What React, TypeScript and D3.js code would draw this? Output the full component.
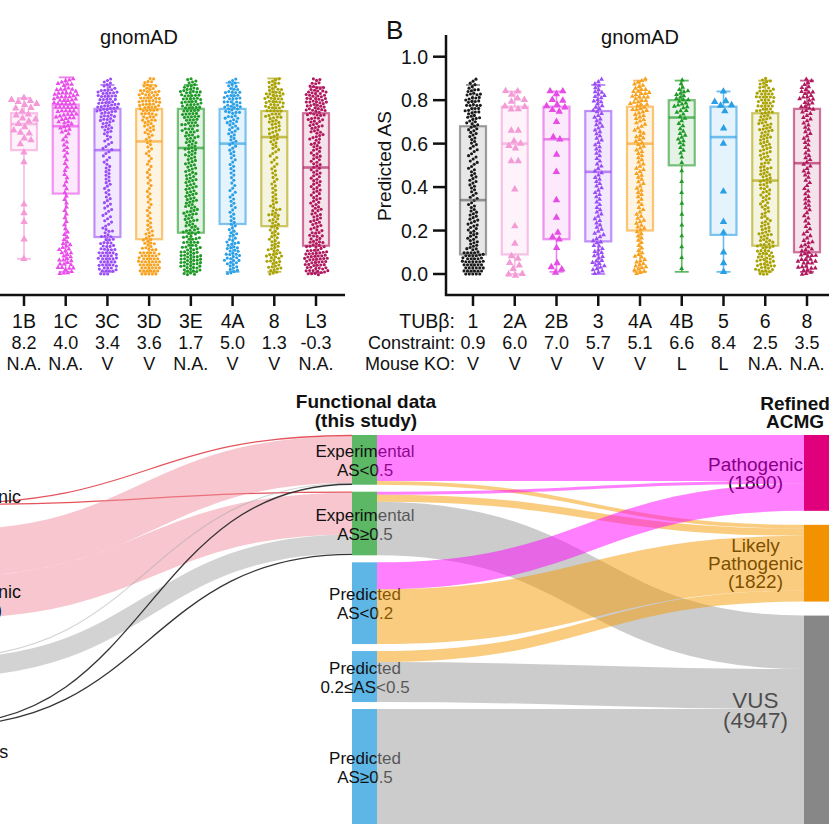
import { useMemo } from "react";
import * as d3 from "d3";

const W = 829;
const H = 828;
const FONT = "'Liberation Sans', Arial, Helvetica, sans-serif";

// ---------- panel A (cropped on the left) ----------
const groupsA = ["1B", "1C", "3C", "3D", "3E", "4A", "8", "L3"];
const constraintA = ["8.2", "4.0", "3.4", "3.6", "1.7", "5.0", "1.3", "-0.3"];
const mouseKoA = ["N.A.", "N.A.", "V", "V", "N.A.", "V", "V", "N.A."];
const colorsA = ["#f59ad8", "#e94ce9", "#9a4cf5", "#f7a11e", "#1f9a27", "#2a9fe6", "#a9a203", "#b0195e"];
const markersA = ["bigTri", "tri", "dot", "dot", "dot", "dot", "dot", "dot"];
// whisker low, Q1, median, Q3, whisker high
const statsA = [
  [0.07, 0.57, 0.69, 0.74, 0.81],
  [0.01, 0.37, 0.68, 0.78, 0.905],
  [0.01, 0.17, 0.57, 0.76, 0.87],
  [0.01, 0.16, 0.61, 0.76, 0.87],
  [0.01, 0.19, 0.58, 0.76, 0.87],
  [0.01, 0.23, 0.6, 0.76, 0.88],
  [0.01, 0.22, 0.63, 0.75, 0.9],
  [0.005, 0.13, 0.49, 0.74, 0.86],
];
// point counts per 0.05 bin (0.00 .. 0.90)
const binsA = [
  null,
  [12, 10, 8, 4, 3, 3, 3, 3, 3, 3, 3, 4, 4, 8, 14, 18, 18, 10],
  [18, 20, 14, 10, 6, 6, 6, 5, 6, 6, 5, 6, 6, 10, 16, 20, 20, 8],
  [24, 22, 12, 8, 5, 4, 4, 4, 4, 4, 4, 5, 6, 10, 14, 20, 22, 10],
  [20, 22, 16, 14, 12, 12, 11, 11, 11, 10, 10, 11, 12, 14, 16, 20, 22, 10],
  [10, 14, 12, 8, 6, 5, 5, 5, 4, 5, 5, 6, 7, 9, 12, 16, 16, 8],
  [12, 14, 10, 8, 8, 10, 6, 5, 5, 5, 5, 6, 8, 10, 14, 18, 18, 10],
  [24, 24, 16, 12, 10, 10, 9, 9, 9, 9, 9, 9, 10, 12, 15, 20, 22, 10],
];
const values1B = [0.81, 0.8, 0.79, 0.79, 0.78, 0.78, 0.77, 0.76, 0.75, 0.74, 0.73, 0.72, 0.71, 0.7, 0.69, 0.68, 0.66, 0.65, 0.64, 0.63, 0.62, 0.6, 0.56, 0.515, 0.32, 0.28, 0.24, 0.16, 0.07];

// ---------- panel B ----------
const groupsB = ["1", "2A", "2B", "3", "4A", "4B", "5", "6", "8"];
const constraintB = ["0.9", "6.0", "7.0", "5.7", "5.1", "6.6", "8.4", "2.5", "3.5"];
const mouseKoB = ["V", "V", "V", "V", "V", "L", "L", "N.A.", "N.A."];
const colorsB = ["#1a1a1a", "#f39bd6", "#e64ce6", "#9a4cf5", "#f7a11e", "#1f9a27", "#2a9fe6", "#a9a203", "#b0195e"];
const markersB = ["dot", "bigTri", "bigTri", "tri", "tri", "tri", "bigTri", "dot", "tri"];
const statsB = [
  [0.01, 0.09, 0.34, 0.68, 0.87],
  [0.0, 0.09, 0.6, 0.77, 0.84],
  [0.01, 0.16, 0.62, 0.77, 0.84],
  [0.0, 0.15, 0.47, 0.75, 0.87],
  [0.01, 0.2, 0.6, 0.77, 0.89],
  [0.01, 0.5, 0.72, 0.8, 0.89],
  [0.01, 0.18, 0.63, 0.77, 0.84],
  [0.01, 0.13, 0.43, 0.74, 0.89],
  [0.01, 0.1, 0.51, 0.76, 0.89],
];
const binsB = [
  [24, 22, 10, 9, 9, 8, 6, 6, 7, 6, 6, 6, 7, 9, 12, 14, 14, 6],
  null,
  null,
  [9, 8, 7, 6, 5, 5, 4, 5, 5, 5, 4, 5, 5, 6, 6, 7, 8, 5],
  [10, 7, 4, 5, 7, 5, 4, 5, 5, 6, 5, 6, 7, 6, 8, 12, 14, 7],
  [1, 1, 1, 1, 1, 1, 1, 1, 1, 1, 2, 4, 6, 4, 5, 10, 9, 3],
  null,
  [18, 16, 14, 12, 9, 7, 8, 9, 10, 11, 9, 10, 11, 12, 12, 16, 18, 10],
  [12, 12, 8, 5, 4, 4, 5, 4, 4, 5, 5, 4, 5, 5, 6, 9, 10, 6],
];
const values2A = [0.84, 0.84, 0.82, 0.81, 0.8, 0.8, 0.77, 0.77, 0.76, 0.76, 0.66, 0.66, 0.61, 0.6, 0.59, 0.58, 0.52, 0.52, 0.39, 0.22, 0.14, 0.08, 0.07, 0.05, 0.04, 0.02, 0.0, 0.0, 0.0];
const values2B = [0.84, 0.84, 0.83, 0.8, 0.79, 0.78, 0.77, 0.77, 0.76, 0.75, 0.7, 0.63, 0.62, 0.55, 0.47, 0.34, 0.26, 0.19, 0.17, 0.16, 0.12, 0.05, 0.03, 0.02, 0.01];
const values5 = [0.84, 0.79, 0.79, 0.78, 0.78, 0.75, 0.67, 0.6, 0.38, 0.24, 0.19, 0.1, 0.05, 0.01];
const yTicks = [0, 0.2, 0.4, 0.6, 0.8, 1.0];

// ---------- sankey ----------
const leftNames = [["Pathogenic", "(48)"], ["Likely", "Pathogenic", "(2100)"], ["VUS", "(473)"], ["Other", "Variants"]];
const leftColors = ["#e34a52", "#ef8d9d", "#a8a8a8", "#2b2b2b"];
const middleNames = [
  ["Experimental", "AS<0.5"],
  ["Experimental", "AS≥0.5"],
  ["Predicted", "AS<0.2"],
  ["Predicted", "0.2≤AS<0.5"],
  ["Predicted", "AS≥0.5"],
];
const middleColors = ["#5cb865", "#5cb865", "#5db6e6", "#5db6e6", "#5db6e6"];
const rightNames = ["Pathogenic", "Likely Pathogenic", "VUS"];
const rightCounts = [1800, 1822, 4947];
const rightNodeColors = ["#e0007b", "#f39200", "#878787"];
const rightFlowColors = ["#ff00ff", "#f59a00", "#999999"];
// [source, target, variants]
const leftLinks = [
  [0, 0, 24], [0, 1, 24],
  [1, 0, 1110], [1, 1, 990],
  [2, 0, 23], [2, 1, 450],
  [3, 0, 23], [3, 1, 46],
];
const rightLinks = [
  [0, 0, 1090], [0, 1, 90],
  [1, 0, 70], [1, 1, 170], [1, 2, 1270],
  [2, 0, 640], [2, 1, 1300],
  [3, 1, 262], [3, 2, 948],
  [4, 2, 2729],
];

// layout
const yA = d3.scaleLinear().domain([0, 1]).range([274, 56.7]);
const xA = d3.scalePoint().domain(groupsA).range([24, 316]);
const xB = d3.scalePoint().domain(groupsB).range([473, 807]);
const boxW = 26;
const capW = 14;
const sankeyTop = 435;
const sankeyBottom = 824;
const midGap = 7;
const leftTops = [503, 530, 657, 724];
const leftLabelBase = [503, 580, 670, 740];
const colX = { left: [-80, -55], mid: [352, 377], right: [804, 829] };

const markerR: Record<string, number> = { dot: 1.55, tri: 1.8, bigTri: 3.3 };
const markerSize: Record<string, number> = { dot: 0, tri: 10, bigTri: 24 };

function targetValues(bins: number[] | null, values: number[] | null) {
  if (values) return values;
  const out: number[] = [];
  (bins || []).forEach((n, i) => {
    for (let j = 0; j < n; j++) out.push(i * 0.05 + ((j + 0.5) / n) * 0.05);
  });
  return out;
}

function swarm(vals: number[], cx: number, r: number) {
  const nodes: any[] = vals.map((v, j) => ({ x: cx + ((j % 7) - 3) * 1.3, y: yA(v), ty: yA(v) }));
  const sim = d3
    .forceSimulation(nodes)
    .force("x", d3.forceX(cx).strength(0.05))
    .force("y", d3.forceY((d: any) => d.ty).strength(0.55))
    .force("collide", d3.forceCollide(r + 0.2).iterations(2))
    .stop();
  for (let i = 0; i < 160; i++) sim.tick();
  return nodes;
}

function BoxGroup({ cx, stats, color, marker, vals, boxStroke, boxFill }: any) {
  const [lo, q1, med, q3, hi] = stats;
  const pts = useMemo(() => swarm(vals, cx, markerR[marker]), [vals, cx, marker]);
  const tri = d3.symbol(d3.symbolTriangle, markerSize[marker])();
  const stroke = boxStroke || color;
  return (
    <g>
      <line x1={cx} x2={cx} y1={yA(hi)} y2={yA(q3)} stroke={stroke} strokeOpacity={0.7} strokeWidth={1.6} />
      <line x1={cx} x2={cx} y1={yA(q1)} y2={yA(lo)} stroke={stroke} strokeOpacity={0.7} strokeWidth={1.6} />
      <line x1={cx - capW / 2} x2={cx + capW / 2} y1={yA(hi)} y2={yA(hi)} stroke={stroke} strokeOpacity={0.7} strokeWidth={1.8} />
      <line x1={cx - capW / 2} x2={cx + capW / 2} y1={yA(lo)} y2={yA(lo)} stroke={stroke} strokeOpacity={0.7} strokeWidth={1.8} />
      <rect
        x={cx - boxW / 2}
        y={yA(q3)}
        width={boxW}
        height={yA(q1) - yA(q3)}
        fill={boxFill || color}
        fillOpacity={boxFill ? 0.3 : 0.12}
        stroke={stroke}
        strokeOpacity={0.6}
        strokeWidth={2.2}
      />
      {pts.map((p, i) =>
        marker === "dot" ? (
          <circle key={i} cx={p.x} cy={p.y} r={markerR[marker]} fill={color} />
        ) : (
          <path key={i} d={tri || ""} transform={`translate(${p.x},${p.y})`} fill={color} />
        ),
      )}
      <line x1={cx - boxW / 2} x2={cx + boxW / 2} y1={yA(med)} y2={yA(med)} stroke={stroke} strokeOpacity={0.65} strokeWidth={2.6} />
    </g>
  );
}

function PanelA() {
  return (
    <g>
      <text x={139} y={43.5} textAnchor="middle" fontSize={20}>gnomAD</text>
      {groupsA.map((g, i) => (
        <BoxGroup
          key={g}
          cx={xA(g)}
          stats={statsA[i]}
          color={colorsA[i]}
          marker={markersA[i]}
          vals={targetValues(binsA[i], i === 0 ? values1B : null)}
        />
      ))}
      <line x1={0} x2={345} y1={295} y2={295} stroke="#111" strokeWidth={2.5} />
      {groupsA.map((g, i) => (
        <g key={g} transform={`translate(${xA(g)},0)`}>
          <line y1={295} y2={306} stroke="#111" strokeWidth={2.5} />
          <text y={328} textAnchor="middle" fontSize={19.5}>{g}</text>
          <text y={349} textAnchor="middle" fontSize={18}>{constraintA[i]}</text>
          <text y={370} textAnchor="middle" fontSize={18}>{mouseKoA[i]}</text>
        </g>
      ))}
    </g>
  );
}

function PanelB() {
  const valsFor = (i: number) =>
    targetValues(binsB[i], i === 1 ? values2A : i === 2 ? values2B : i === 6 ? values5 : null);
  return (
    <g>
      <text x={386} y={39} fontSize={26}>B</text>
      <text x={640} y={43.5} textAnchor="middle" fontSize={20}>gnomAD</text>
      <text transform="translate(391,166) rotate(-90)" textAnchor="middle" fontSize={19}>Predicted AS</text>
      {yTicks.map((t) => (
        <g key={t}>
          <line x1={433} x2={446} y1={yA(t)} y2={yA(t)} stroke="#111" strokeWidth={2.5} />
          <text x={428} y={yA(t) + 7} textAnchor="end" fontSize={19.5}>{t.toFixed(1)}</text>
        </g>
      ))}
      {groupsB.map((g, i) => (
        <BoxGroup
          key={g}
          cx={xB(g)}
          stats={statsB[i]}
          color={colorsB[i]}
          marker={markersB[i]}
          vals={valsFor(i)}
          boxStroke={i === 0 ? "#606060" : undefined}
          boxFill={i === 0 ? "#b0b0b0" : undefined}
        />
      ))}
      <line x1={446} x2={446} y1={35} y2={296} stroke="#111" strokeWidth={2.5} />
      <line x1={445} x2={W} y1={295} y2={295} stroke="#111" strokeWidth={2.5} />
      <text x={455} y={328} textAnchor="end" fontSize={19.5}>TUBβ:</text>
      <text x={455} y={349} textAnchor="end" fontSize={18}>Constraint:</text>
      <text x={455} y={370} textAnchor="end" fontSize={18}>Mouse KO:</text>
      {groupsB.map((g, i) => (
        <g key={g} transform={`translate(${xB(g)},0)`}>
          <line y1={295} y2={306} stroke="#111" strokeWidth={2.5} />
          <text y={328} textAnchor="middle" fontSize={19.5}>{g}</text>
          <text y={349} textAnchor="middle" fontSize={18}>{constraintB[i]}</text>
          <text y={370} textAnchor="middle" fontSize={18}>{mouseKoB[i]}</text>
        </g>
      ))}
    </g>
  );
}

function Sankey() {
  const layout = useMemo(() => {
    const midIn = middleNames.map((_, i) => d3.sum(leftLinks.filter((l) => l[1] === i), (l) => l[2]));
    const midOut = middleNames.map((_, i) => d3.sum(rightLinks.filter((l) => l[0] === i), (l) => l[2]));
    const midVal = midIn.map((v, i) => Math.max(v, midOut[i]));
    const total = d3.sum(midVal);
    const k = (sankeyBottom - sankeyTop - midGap * (middleNames.length - 1)) / total;
    const rightGap = (sankeyBottom - sankeyTop - d3.sum(rightCounts) * k) / (rightCounts.length - 1);

    let y = sankeyTop;
    const mid = midVal.map((v) => {
      const n = { y0: y, y1: y + v * k };
      y = n.y1 + midGap;
      return n;
    });
    y = sankeyTop;
    const right = rightCounts.map((v) => {
      const n = { y0: y, y1: y + v * k };
      y = n.y1 + rightGap;
      return n;
    });
    const leftVal = leftNames.map((_, i) => d3.sum(leftLinks.filter((l) => l[0] === i), (l) => l[2]));
    const left = leftVal.map((v, i) => ({ y0: leftTops[i], y1: leftTops[i] + v * k }));

    const stack = (links: number[][], srcNodes: any[], tgtNodes: any[]) => {
      const srcOff = srcNodes.map((n) => n.y0);
      const tgtOff = tgtNodes.map((n) => n.y0);
      const bySrc = [...links].sort((a, b) => a[0] - b[0] || a[1] - b[1]);
      const res = new Map<number[], any>();
      bySrc.forEach((l) => {
        const w = l[2] * k;
        res.set(l, { w, ys: srcOff[l[0]] + w / 2 });
        srcOff[l[0]] += w;
      });
      const byTgt = [...links].sort((a, b) => a[1] - b[1] || a[0] - b[0]);
      byTgt.forEach((l) => {
        const r = res.get(l);
        r.yt = tgtOff[l[1]] + r.w / 2;
        tgtOff[l[1]] += r.w;
      });
      return links.map((l) => ({ s: l[0], t: l[1], ...res.get(l) }));
    };

    return {
      mid,
      right,
      left,
      lLinks: stack(leftLinks, left, mid),
      rLinks: stack(rightLinks, mid, right),
    };
  }, []);

  const link = d3.linkHorizontal();
  const pathOf = (x0: number, y0: number, x1: number, y1: number) =>
    link({ source: [x0, y0], target: [x1, y1] } as any) || "";

  return (
    <g>
      <text x={366} y={408} textAnchor="middle" fontSize={19} fontWeight="bold">Functional data</text>
      <text x={366} y={427} textAnchor="middle" fontSize={19} fontWeight="bold">(this study)</text>
      <text x={795} y={410} textAnchor="middle" fontSize={19} fontWeight="bold">Refined</text>
      <text x={795} y={428} textAnchor="middle" fontSize={19} fontWeight="bold">ACMG</text>

      {layout.mid.map((n, i) => (
        <rect key={i} x={colX.mid[0]} y={n.y0} width={colX.mid[1] - colX.mid[0]} height={n.y1 - n.y0} fill={middleColors[i]} />
      ))}
      {layout.right.map((n, i) => (
        <rect key={i} x={colX.right[0]} y={n.y0} width={colX.right[1] - colX.right[0]} height={n.y1 - n.y0} fill={rightNodeColors[i]} />
      ))}

      {layout.lLinks.map((l, i) => {
        const line = l.s === 0 || l.s === 3;
        return (
          <path
            key={`l${i}`}
            d={pathOf(colX.left[1], l.ys, colX.mid[0], l.yt)}
            fill="none"
            stroke={leftColors[l.s]}
            strokeOpacity={line ? 0.95 : 0.5}
            strokeWidth={line ? 1.3 : Math.max(1.2, l.w)}
          />
        );
      })}

      {layout.mid.map((n, i) => {
        const c = (n.y0 + n.y1) / 2;
        return middleNames[i].map((s, j) => (
          <text key={`${i}-${j}`} x={365} y={c + (j - 0.5) * 19 + 6.5} textAnchor="middle" fontSize={17} fill="#111">
            {s}
          </text>
        ));
      })}
      {layout.right.map((n, i) => {
        const lines = i === 1 ? ["Likely", "Pathogenic", `(${rightCounts[i]})`] : [rightNames[i], `(${rightCounts[i]})`];
        const fs = i === 2 ? 22.5 : 19;
        const lh = i === 2 ? 20 : 18;
        const c = i === 2 ? 710 : (n.y0 + n.y1) / 2;
        return lines.map((s, j) => (
          <text key={`${i}-${j}`} x={755.5} y={c + (j - (lines.length - 1) / 2) * lh + fs * 0.36} textAnchor="middle" fontSize={fs} fill="#000">
            {s}
          </text>
        ));
      })}
      {leftNames.map((lines, i) =>
        lines.map((s, j) => (
          <text key={`${i}-${j}`} x={-24} y={leftLabelBase[i] + j * 18} textAnchor="middle" fontSize={18} fill="#111">
            {s}
          </text>
        )),
      )}

      {layout.rLinks.map((l, i) => (
        <path
          key={`r${i}`}
          d={pathOf(colX.mid[1], l.ys, colX.right[0], l.yt)}
          fill="none"
          stroke={rightFlowColors[l.t]}
          strokeOpacity={0.5}
          strokeWidth={Math.max(1, l.w)}
        />
      ))}
    </g>
  );
}

export default function App() {
  return (
    <svg
      width={W}
      height={H}
      viewBox={`0 0 ${W} ${H}`}
      style={{ position: "absolute", left: 0, top: 0, background: "#fff" }}
      fontFamily={FONT}
      fill="#111"
    >
      <rect width={W} height={H} fill="#fff" />
      <PanelA />
      <PanelB />
      <Sankey />
    </svg>
  );
}
